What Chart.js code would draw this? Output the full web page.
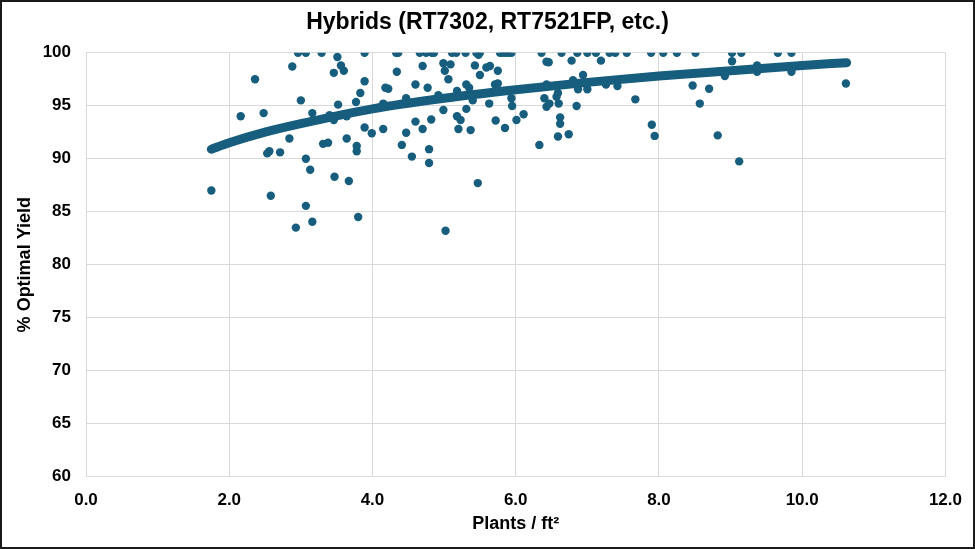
<!DOCTYPE html>
<html lang="en">
<head>
    <meta charset="UTF-8">
    <title>Hybrids (RT7302, RT7521FP, etc.)</title>
    <script src="https://cdn.jsdelivr.net/npm/chart.js"></script>
    <style>
        body {
            margin: 0;
            padding: 0;
            background: #ffffff;
        }

        .frame {
            position: relative;
            width: 975px;
            height: 549px;
        }

        .frame::after {
            content: "";
            position: absolute;
            inset: 0;
            border: 2px solid #1a1a1a;
            pointer-events: none;
        }

        canvas {
            display: block;
        }
    </style>
</head>
<body>
    <div class="frame">
        <canvas id="yieldChart" width="975" height="549"></canvas>
    </div>

    <script>
        // observed plots: plant density (plants / ft2) and % of optimal yield
        const plantsPerFt2 = [
            2.96, 3.07, 3.29, 3.89, 4.33, 4.36, 4.66, 4.75, 4.83, 4.86, 5.11, 5.17,
            5.30, 5.45, 5.50, 5.78, 5.82, 5.86, 5.90, 5.94, 6.36, 6.64, 6.86, 7.00,
            7.12, 7.31, 7.39, 7.55, 7.89, 8.06, 8.25, 8.51, 9.02, 9.15, 9.66, 9.85,
            3.51, 3.56, 3.60, 3.46, 2.88, 2.36, 3.89, 3.83, 4.18, 4.22, 3.77, 3.52,
            3.00, 4.15, 2.16, 2.48, 3.16, 3.40, 3.46, 3.64, 3.89, 3.99, 4.15, 2.84,
            3.31, 3.38, 3.64, 3.78, 3.78, 2.53, 2.56, 2.71, 3.07, 3.13, 3.47, 3.67,
            1.75, 2.58, 3.07, 3.80, 3.16, 2.93,
            4.70, 4.99, 5.09, 5.01, 5.06, 4.34, 5.48, 5.43, 5.59, 5.64, 5.75, 5.50,
            6.43, 6.46, 6.78, 4.60, 4.77, 4.47, 4.92, 5.18, 5.31, 5.35, 5.40, 5.71,
            5.75, 5.63, 5.94, 5.95, 4.99, 5.31, 5.18, 5.23, 4.82, 4.60, 4.70, 4.47,
            5.20, 5.37, 5.72, 5.85, 6.01, 6.11, 6.40, 6.43, 6.47, 6.57, 6.59, 6.60,
            6.80, 6.85, 6.62, 6.62, 6.59, 6.74, 6.33, 4.41, 4.55, 4.79, 4.79, 5.47,
            5.02, 6.43,
            7.19, 9.02, 6.94, 6.87, 7.00, 7.26, 7.42, 7.67, 7.90, 7.94, 8.47, 8.70,
            8.57, 8.82, 9.12, 8.92, 9.37, 9.37, 9.85, 10.61
        ];
        const optimalYield = [
            100, 100, 100, 100, 100, 100, 100, 100, 100, 100, 100, 100,
            100, 100, 100, 100, 100, 100, 100, 100, 100, 100, 100, 100,
            100, 100, 100, 100, 100, 100, 100, 100, 100, 100, 100, 100,
            99.6, 98.8, 98.3, 98.1, 98.7, 97.5, 97.3, 96.2, 96.7, 96.6, 95.35, 95.1,
            95.5, 95.2, 94.0, 94.3, 94.3, 94.1, 93.65, 94.0, 92.95, 92.4, 92.8, 91.9,
            91.4, 91.5, 91.9, 91.2, 90.7, 90.5, 90.7, 90.6, 90.0, 88.96, 88.3, 87.9,
            87.0, 86.5, 85.55, 84.5, 84.05, 83.5,
            98.75, 99.0, 98.9, 98.3, 97.5, 98.2, 99.8, 98.8, 98.6, 98.75, 98.3, 97.9,
            99.15, 99.1, 99.25, 97.0, 96.7, 95.7, 96.0, 96.4, 97.0, 96.7, 95.5, 97.0,
            97.1, 95.2, 95.7, 94.97, 94.6, 94.7, 94.0, 93.65, 93.7, 93.5, 92.8, 92.45,
            92.8, 92.7, 93.6, 92.9, 93.65, 94.2, 95.7, 94.9, 95.2, 95.85, 96.2, 95.2,
            97.4, 94.97, 93.9, 93.3, 92.1, 92.3, 91.3, 91.3, 90.2, 90.9, 89.6, 87.7,
            83.2, 97.0,
            99.25, 99.2, 97.9, 96.55, 96.55, 97.0, 96.85, 95.6, 93.2, 92.15, 96.9, 96.6,
            95.2, 92.2, 89.75, 97.8, 98.8, 98.2, 98.2, 97.1
        ];

        // fitted trend
        const trendX = [1.75, 2.0, 2.5, 3.0, 4.0, 5.0, 6.0, 7.0, 8.0, 9.0, 10.0, 10.62];
        const trendY = [90.9, 91.5, 92.5, 93.3, 94.7, 95.7, 96.5, 97.2, 97.8, 98.3, 98.8, 99.06];

        const xMin = 0, xMax = 12, xStep = 2;
        const yMin = 60, yMax = 100, yStep = 5;

        const dotColor = '#175e7e';
        const gridColor = '#d9d9d9';

        Chart.defaults.font.family = "'Liberation Sans', Arial, sans-serif";
        Chart.defaults.color = '#000000';

        const points = plantsPerFt2.map((x, i) => ({ x: x, y: optimalYield[i] }));
        const trend = trendX.map((x, i) => ({ x: x, y: trendY[i] }));

        new Chart(document.getElementById('yieldChart'), {
            type: 'scatter',
            data: {
                datasets: [
                    {
                        label: 'Trend',
                        type: 'line',
                        data: trend,
                        borderColor: dotColor,
                        borderWidth: 9,
                        borderCapStyle: 'round',
                        pointRadius: 0,
                        cubicInterpolationMode: 'monotone',
                        fill: false
                    },
                    {
                        label: 'Yield',
                        data: points,
                        backgroundColor: dotColor,
                        borderColor: dotColor,
                        borderWidth: 0,
                        pointRadius: 4.2
                    }
                ]
            },
            options: {
                responsive: false,
                animation: false,
                layout: {
                    padding: 0
                },
                plugins: {
                    legend: { display: false },
                    tooltip: { enabled: false },
                    title: {
                        display: true,
                        text: 'Hybrids (RT7302, RT7521FP, etc.)',
                        color: '#000000',
                        font: { size: 23, weight: 'bold' },
                        padding: { top: 8.7, bottom: 16.4 }
                    }
                },
                scales: {
                    x: {
                        type: 'linear',
                        min: xMin,
                        max: xMax,
                        afterFit: scale => { scale.height = 72.3; },
                        ticks: {
                            stepSize: xStep,
                            padding: 13,
                            color: '#000000',
                            font: { size: 17, weight: 'bold' },
                            callback: v => v.toFixed(1)
                        },
                        grid: { color: gridColor, drawTicks: false },
                        border: { color: gridColor },
                        title: {
                            display: true,
                            text: 'Plants / ft\u00b2',
                            color: '#000000',
                            font: { size: 18, weight: 'bold' },
                            padding: { top: 0, bottom: 14 }
                        }
                    },
                    y: {
                        min: yMin,
                        max: yMax,
                        afterFit: scale => { scale.width = 86; },
                        ticks: {
                            stepSize: yStep,
                            padding: 15,
                            color: '#000000',
                            font: { size: 17, weight: 'bold' }
                        },
                        grid: { color: gridColor, drawTicks: false },
                        border: { color: gridColor },
                        title: {
                            display: true,
                            text: '% Optimal Yield',
                            color: '#000000',
                            font: { size: 18, weight: 'bold' },
                            padding: { top: 14, bottom: 0 }
                        }
                    },
                    // empty right-hand spacer so the title stays centred on the page
                    spacer: {
                        type: 'linear',
                        position: 'right',
                        afterFit: scale => { scale.width = 29; },
                        ticks: { display: false },
                        grid: { display: false },
                        border: { display: false }
                    }
                }
            }
        });
    </script>
</body>
</html>
